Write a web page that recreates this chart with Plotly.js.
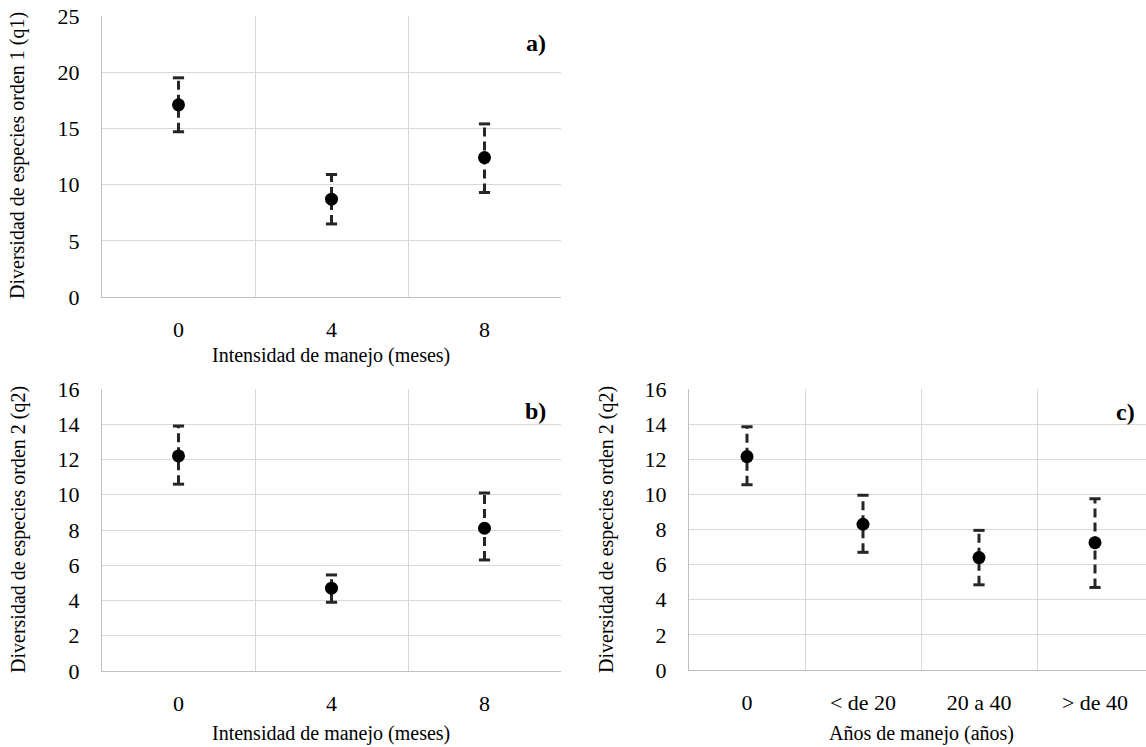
<!DOCTYPE html>
<html>
<head>
<meta charset="utf-8">
<script src="https://cdn.plot.ly/plotly-3.0.1.min.js"></script>
<style>
html,body{margin:0;padding:0;overflow:hidden;background:#fff;}
#chart{width:1160px;height:747px;}
</style>
</head>
<body>
<div id="chart"></div>
<script>
// ---- data ----
const catsAB = ['0', '4', '8'];
const aMean = [17.1, 8.7, 12.4];
const aHigh = [19.5, 10.9, 15.4];
const aLow  = [14.7, 6.5, 9.3];

const bMean = [12.2, 4.7, 8.1];
const bHigh = [13.9, 5.45, 10.1];
const bLow  = [10.6, 3.9, 6.3];

const catsC = ['0', '< de 20', '20 a 40', '> de 40'];
const cMean = [12.15, 8.3, 6.4, 7.25];
const cHigh = [13.85, 9.95, 7.95, 9.75];
const cLow  = [10.55, 6.7, 4.85, 4.7];

const yTitleA = 'Diversidad de especies orden 1 (q1)';
const yTitleBC = 'Diversidad de especies orden 2 (q2)';
const xTitleAB = 'Intensidad de manejo (meses)';
const xTitleC = 'Años de manejo (años)';
const panelLabels = ['a)', 'b)', 'c)'];

// ---- styling ----
const FONT = '"Liberation Serif", "Times New Roman", Times, serif';
const W = 1160, H = 747;
const errColor = '#262626';
const FS = 20;   // titles
const TS = 22;   // tick labels

function panelTraces(cats, mean, hi, lo, xa, ya) {
  const sx = [], sy = [];
  cats.forEach((c, i) => { sx.push(c, c, null); sy.push(lo[i], hi[i], null); });
  return [
    {type:'scatter', mode:'lines', x:sx, y:sy, xaxis:xa, yaxis:ya,
     line:{color:errColor, width:3, dash:'9px,5px'}, hoverinfo:'skip'},
    {type:'scatter', mode:'markers', x:cats.concat(cats), y:lo.concat(hi), xaxis:xa, yaxis:ya,
     marker:{symbol:'line-ew', size:8, line:{color:errColor, width:3}}, hoverinfo:'skip'},
    {type:'scatter', mode:'markers', x:cats, y:mean, xaxis:xa, yaxis:ya,
     marker:{symbol:'circle', size:13, color:'#000'}}
  ];
}

const data = [].concat(
  panelTraces(catsAB, aMean, aHigh, aLow, 'x', 'y'),
  panelTraces(catsAB, bMean, bHigh, bLow, 'x2', 'y2'),
  panelTraces(catsC, cMean, cHigh, cLow, 'x3', 'y3')
);

function xaxis(cats, domain, anchor) {
  return {type:'category', categoryorder:'array', categoryarray:cats,
    domain:domain, anchor:anchor, range:[-0.5, cats.length - 0.5],
    tickson:'boundaries', ticks:'', showgrid:true, gridcolor:'#d9d9d9', gridwidth:1,
    showline:true, linecolor:'#c0c0c0', linewidth:1, zeroline:false,
    ticklabelstandoff:13, tickfont:{family:FONT, size:TS, color:'#000'}, fixedrange:true};
}
function yaxis(max, dtick, domain, anchor) {
  return {range:[0, max], dtick:dtick, tick0:0, domain:domain, anchor:anchor,
    ticks:'', showgrid:true, gridcolor:'#d9d9d9', gridwidth:1,
    showline:true, linecolor:'#c0c0c0', linewidth:1, zeroline:false,
    ticklabelstandoff:17, tickfont:{family:FONT, size:TS, color:'#000'}, fixedrange:true};
}

const px = v => v / W, py = v => 1 - v / H;
const tf = {family:FONT, size:FS, color:'#000'};
const lf = {family:FONT, size:24, color:'#000'};

const layout = {
  width:W, height:H, margin:{l:0, r:0, t:0, b:0},
  paper_bgcolor:'#fff', plot_bgcolor:'#fff', showlegend:false,
  font:{family:FONT, size:FS, color:'#000'},
  xaxis:  xaxis(catsAB, [px(102), px(561)], 'y'),
  yaxis:  yaxis(25, 5, [py(297), py(16)], 'x'),
  xaxis2: xaxis(catsAB, [px(102), px(561)], 'y2'),
  yaxis2: yaxis(16, 2, [py(671), py(389)], 'x2'),
  xaxis3: xaxis(catsC, [px(689), px(1153)], 'y3'),
  yaxis3: yaxis(16, 2, [py(670), py(389)], 'x3'),
  annotations: [
    {text:yTitleA, xref:'paper', yref:'paper', x:px(18), y:py(156), textangle:-90, showarrow:false, xanchor:'center', yanchor:'middle', font:tf},
    {text:yTitleBC, xref:'paper', yref:'paper', x:px(18), y:py(530), textangle:-90, showarrow:false, xanchor:'center', yanchor:'middle', font:tf},
    {text:yTitleBC, xref:'paper', yref:'paper', x:px(606), y:py(530), textangle:-90, showarrow:false, xanchor:'center', yanchor:'middle', font:tf},
    {text:xTitleAB, xref:'paper', yref:'paper', x:px(331), y:py(356), showarrow:false, xanchor:'center', yanchor:'middle', font:tf},
    {text:xTitleAB, xref:'paper', yref:'paper', x:px(331), y:py(733), showarrow:false, xanchor:'center', yanchor:'middle', font:tf},
    {text:xTitleC, xref:'paper', yref:'paper', x:px(921), y:py(733), showarrow:false, xanchor:'center', yanchor:'middle', font:tf},
    {text:'<b>' + panelLabels[0] + '</b>', xref:'paper', yref:'paper', x:px(548), y:py(43), showarrow:false, xanchor:'right', yanchor:'middle', font:lf},
    {text:'<b>' + panelLabels[1] + '</b>', xref:'paper', yref:'paper', x:px(548), y:py(411), showarrow:false, xanchor:'right', yanchor:'middle', font:lf},
    {text:'<b>' + panelLabels[2] + '</b>', xref:'paper', yref:'paper', x:px(1137), y:py(412), showarrow:false, xanchor:'right', yanchor:'middle', font:lf}
  ]
};

Plotly.newPlot('chart', data, layout, {staticPlot:true, displayModeBar:false});
</script>
</body>
</html>
